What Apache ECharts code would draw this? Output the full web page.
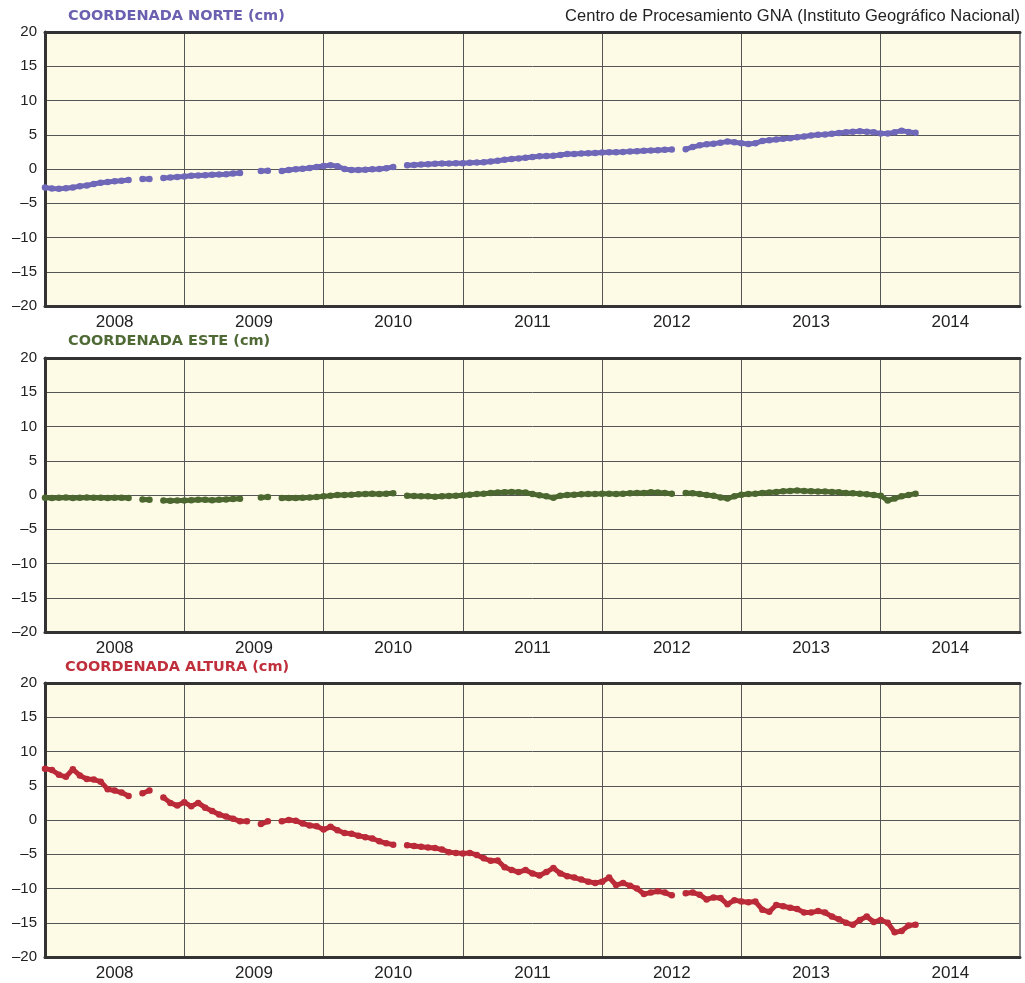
<!DOCTYPE html>
<html><head><meta charset="utf-8">
<script src="https://cdn.jsdelivr.net/npm/echarts@6/dist/echarts.min.js"></script>
<style>html,body{margin:0;padding:0;background:#fff}#c{width:1025px;height:983px}</style>
</head><body><div id="c"></div>
<script>
const years = ['2008','2009','2010','2011','2012','2013','2014'];
const yTicks = [-20,-15,-10,-5,0,5,10,15,20];
const yTickLabels = ['\u201320','\u201315','\u201310','\u20135','0','5','10','15','20'];
const titles = ['COORDENADA NORTE (cm)','COORDENADA ESTE (cm)','COORDENADA ALTURA (cm)'];
const sourceText = 'Centro de Procesamiento GNA (Instituto Geográfico Nacional)';

const epochs = [
 2008.00,2008.05,2008.10,2008.15,2008.20,2008.25,2008.30,2008.35,2008.40,2008.45,2008.50,2008.55,2008.60,2008.65,2008.70,2008.75,2008.80,2008.85,2008.90,2008.95,
 2009.00,2009.05,2009.10,2009.15,2009.20,2009.25,2009.30,2009.35,2009.40,2009.45,2009.50,2009.55,2009.60,2009.65,2009.70,2009.75,2009.80,2009.85,2009.90,2009.95,
 2010.00,2010.05,2010.10,2010.15,2010.20,2010.25,2010.30,2010.35,2010.40,2010.45,2010.50,2010.55,2010.60,2010.65,2010.70,2010.75,2010.80,2010.85,2010.90,2010.95,
 2011.00,2011.05,2011.10,2011.15,2011.20,2011.25,2011.30,2011.35,2011.40,2011.45,2011.50,2011.55,2011.60,2011.65,2011.70,2011.75,2011.80,2011.85,2011.90,2011.95,
 2012.00,2012.05,2012.10,2012.15,2012.20,2012.25,2012.30,2012.35,2012.40,2012.45,2012.50,2012.55,2012.60,2012.65,2012.70,2012.75,2012.80,2012.85,2012.90,2012.95,
 2013.00,2013.05,2013.10,2013.15,2013.20,2013.25,2013.30,2013.35,2013.40,2013.45,2013.50,2013.55,2013.60,2013.65,2013.70,2013.75,2013.80,2013.85,2013.90,2013.95,
 2014.00,2014.05,2014.10,2014.15,2014.20,2014.25
];

const norte = [
 -2.7,-2.85,-2.9,-2.8,-2.7,-2.5,-2.4,-2.2,-2.0,-1.9,-1.8,-1.7,-1.6,null,-1.45,-1.45,null,-1.3,-1.25,-1.15,
 -1.1,-1.0,-0.95,-0.9,-0.85,-0.8,-0.75,-0.65,-0.6,null,null,-0.3,-0.25,null,-0.3,-0.15,-0.05,0.05,0.15,0.3,
 0.45,0.55,0.4,0.0,-0.15,-0.15,-0.1,-0.05,0.0,0.1,0.3,null,0.55,0.6,0.65,0.7,0.75,0.8,0.8,0.85,
 0.85,0.9,0.95,1.0,1.1,1.2,1.35,1.45,1.55,1.65,1.75,1.85,1.9,1.95,2.05,2.2,2.2,2.25,2.3,2.35,
 2.4,2.45,2.45,2.5,2.55,2.6,2.65,2.7,2.75,2.8,2.85,null,2.9,3.2,3.45,3.6,3.7,3.85,4.0,3.9,
 3.75,3.65,3.75,4.1,4.2,4.3,4.4,4.5,4.65,4.75,4.9,5.0,5.05,5.15,5.25,5.35,5.45,5.5,5.45,5.35,
 5.2,5.2,5.35,5.6,5.4,5.3
];

const este = [
 -0.4,-0.45,-0.4,-0.35,-0.45,-0.4,-0.35,-0.4,-0.4,-0.45,-0.4,-0.4,-0.45,null,-0.65,-0.7,null,-0.8,-0.85,-0.8,
 -0.8,-0.75,-0.7,-0.7,-0.75,-0.7,-0.65,-0.6,-0.55,null,null,-0.35,-0.3,null,-0.45,-0.45,-0.45,-0.4,-0.35,-0.3,
 -0.2,-0.1,0.0,0.0,0.05,0.1,0.15,0.2,0.15,0.2,0.25,null,-0.1,-0.15,-0.2,-0.2,-0.25,-0.2,-0.15,-0.1,
 -0.05,0.05,0.15,0.2,0.3,0.35,0.4,0.45,0.4,0.35,0.15,-0.05,-0.2,-0.4,-0.1,0.0,0.05,0.1,0.15,0.15,
 0.2,0.2,0.15,0.2,0.25,0.3,0.3,0.4,0.35,0.3,0.2,null,0.3,0.25,0.15,0.0,-0.1,-0.35,-0.5,-0.2,
 0.05,0.15,0.2,0.3,0.35,0.45,0.55,0.6,0.65,0.6,0.55,0.5,0.5,0.45,0.4,0.3,0.25,0.2,0.1,0.0,
 -0.1,-0.8,-0.5,-0.2,0.0,0.2
];

const altura = [
 7.5,7.3,6.6,6.3,7.4,6.5,6.0,5.9,5.6,4.5,4.3,4.0,3.5,null,3.9,4.3,null,3.3,2.5,2.1,
 2.6,2.0,2.5,1.8,1.3,0.8,0.5,0.2,-0.2,-0.2,null,-0.6,-0.2,null,-0.2,0.0,-0.1,-0.5,-0.8,-0.9,
 -1.4,-1.0,-1.5,-1.9,-2.0,-2.3,-2.5,-2.7,-3.1,-3.4,-3.6,null,-3.7,-3.8,-3.9,-4.0,-4.1,-4.3,-4.7,-4.8,
 -4.9,-4.8,-5.1,-5.6,-5.95,-5.9,-6.9,-7.3,-7.6,-7.3,-7.8,-8.1,-7.6,-7.0,-7.8,-8.2,-8.4,-8.7,-9.0,-9.2,
 -9.0,-8.4,-9.5,-9.2,-9.6,-10.0,-10.8,-10.6,-10.4,-10.6,-11.0,null,-10.7,-10.6,-10.9,-11.6,-11.3,-11.4,-12.3,-11.7,
 -11.9,-12.0,-11.9,-13.1,-13.4,-12.4,-12.6,-12.8,-13.0,-13.5,-13.5,-13.3,-13.5,-14.1,-14.5,-15.0,-15.3,-14.6,-14.1,-14.9,
 -14.6,-15.0,-16.4,-16.2,-15.4,-15.3
];

const panels = [
  {top: 32,  titleY: 16,  values: norte,  color: '#6f67b8', titleColor: '#6a60b0', titleX: 68},
  {top: 358, titleY: 341, values: este,   color: '#4c6830', titleColor: '#4f6a35', titleX: 68},
  {top: 683, titleY: 667, values: altura, color: '#bb2a38', titleColor: '#c0303c', titleX: 65}
];
const PLOT_H = 274;
const FONT = '"Liberation Sans", Arial, sans-serif';

const grid = [], xAxis = [], yAxis = [], series = [], graphic = [];
panels.forEach((p, i) => {
  grid.push({left: 45, right: 5, top: p.top, height: PLOT_H, show: true,
             backgroundColor: '#fdfbe6', borderWidth: 0});
  xAxis.push({gridIndex: i, type: 'value', min: 2008, max: 2015, interval: 1, position: 'bottom',
    axisLine: {show: true, onZero: false, lineStyle: {color: '#333', width: 3}},
    axisTick: {show: false}, axisLabel: {show: false},
    splitLine: {show: true, lineStyle: {color: '#555', width: 1}}});
  xAxis.push({gridIndex: i, type: 'category', data: years, position: 'bottom', boundaryGap: true,
    axisLine: {show: false}, axisTick: {show: false}, splitLine: {show: false},
    axisLabel: {fontSize: 17, color: '#222', margin: 8, fontFamily: FONT}});
  xAxis.push({gridIndex: i, type: 'value', min: 2008, max: 2015, position: 'top',
    axisLine: {show: true, onZero: false, lineStyle: {color: '#333', width: 3}},
    axisTick: {show: false}, axisLabel: {show: false}, splitLine: {show: false}});
  yAxis.push({gridIndex: i, type: 'value', min: -20, max: 20, interval: 5, position: 'left',
    axisLine: {show: true, onZero: false, lineStyle: {color: '#333', width: 3}},
    axisTick: {show: false},
    axisLabel: {fontSize: 15, color: '#222', margin: 8, fontFamily: FONT,
      formatter: v => yTickLabels[yTicks.indexOf(v)]},
    splitLine: {show: true, lineStyle: {color: '#555', width: 1}}});
  yAxis.push({gridIndex: i, type: 'value', min: -20, max: 20, position: 'right',
    axisLine: {show: true, onZero: false, lineStyle: {color: '#8a8a8a', width: 2}},
    axisTick: {show: false}, axisLabel: {show: false}, splitLine: {show: false}});
  series.push({type: 'line', xAxisIndex: 3 * i, yAxisIndex: 2 * i,
    data: epochs.map((t, k) => [t, p.values[k] === null ? '-' : p.values[k]]),
    connectNulls: false, showSymbol: true, symbol: 'circle', symbolSize: 6.5,
    itemStyle: {color: p.color}, lineStyle: {color: p.color, width: 5, cap: 'round', join: 'round'},
    silent: true, animation: false});
  graphic.push({type: 'text', x: p.titleX, y: p.titleY,
    style: {text: titles[i], fill: p.titleColor, fontSize: 14.5, fontWeight: 'bold',
            fontFamily: '"DejaVu Sans", sans-serif', verticalAlign: 'middle', align: 'left'}});
});
graphic.push({type: 'text', x: 1020, y: 16,
  style: {text: sourceText, fill: '#222', fontSize: 16.5, fontFamily: FONT,
          verticalAlign: 'middle', align: 'right'}});

const chart = echarts.init(document.getElementById('c'), null, {renderer: 'canvas'});
chart.setOption({animation: false, grid, xAxis, yAxis, series, graphic});
</script>
</body></html>
